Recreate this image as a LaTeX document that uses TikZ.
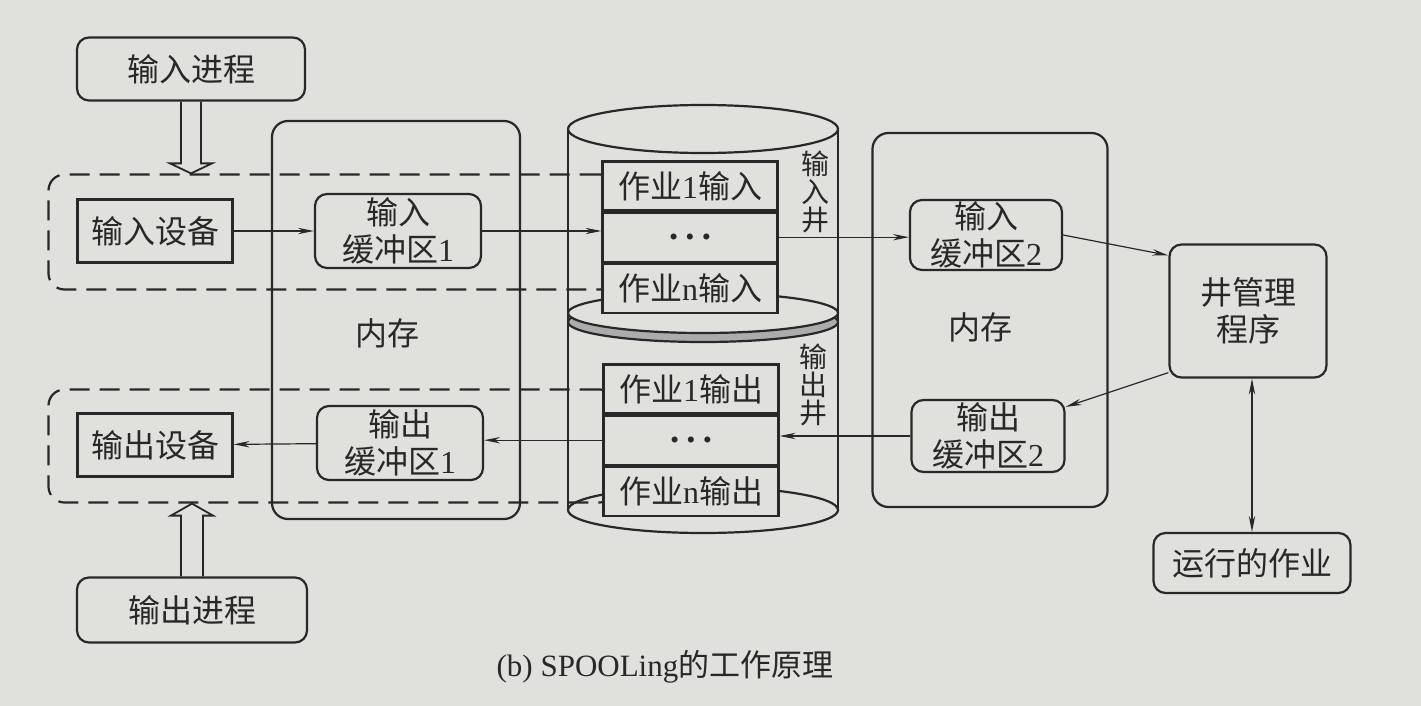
\documentclass[tikz,border=0pt]{standalone}
\usepackage{fontspec}
\setmainfont{Liberation Serif}
\newfontfamily\cjk{Noto Sans CJK SC}
\usetikzlibrary{arrows.meta,positioning,calc}
\newcommand\lat[1]{{\rmfamily #1}}
\newcommand\jobdots{{\fontsize{7}{7}\selectfont$\bullet\;\bullet\;\bullet$}}
\definecolor{paper}{RGB}{224,224,221}
\definecolor{ink}{RGB}{40,40,40}

\begin{document}
\begin{tikzpicture}[
  x=0.5pt, y=-0.5pt, >={Stealth[length=8pt,width=3.2pt]},
  font=\cjk\fontsize{16}{18.5}\selectfont, color=ink,
  box/.style={draw, line width=1.1pt, align=center, inner sep=0pt},
  dev/.style={box, minimum width=77.5pt, minimum height=31.5pt},
  proc/.style={box, rounded corners=6pt, minimum width=114pt, minimum height=31.5pt},
  buf/.style={box, rounded corners=6pt, minimum width=83pt, minimum height=37pt},
  mem/.style={draw, line width=1.1pt, rounded corners=8pt, inner sep=0pt},
  job/.style={box, fill=paper, minimum width=87.5pt, minimum height=24.5pt},
  dashbox/.style={draw, line width=1.1pt, dash pattern=on 10pt off 5pt, rounded corners=8pt,
    minimum width=283.5pt, minimum height=57.5pt, inner sep=0pt},
  well/.style={align=center, inner sep=0pt, font=\cjk\fontsize{14}{14}\selectfont},
  conn/.style={->, line width=0.6pt},
  hollow/.style={line width=0.9pt}]
\fill[paper] (0,0) rectangle (1421,706);
\useasboundingbox (0,0) rectangle (1421,706);
% dashed device groups
\node[dashbox] (indash) at (332,232) {};
\node[dashbox, minimum height=56.5pt] (outdash) at (332,446) {};
% memory
\node[mem, minimum width=124pt, minimum height=199pt] (mem1) at (396,320) {};
\node (mem1lab) at (387,333) {内存};
\node[mem, minimum width=117.5pt, minimum height=187pt] (mem2) at (990,320) {};
\node (mem2lab) at (980,327) {内存};
% disk
\draw[line width=1.1pt] (703,129) ellipse [x radius=67.5pt, y radius=12pt];
\draw[line width=1.1pt] (568,129) -- (568,510) (838,129) -- (838,510);
\draw[line width=1.1pt] (703,510) ellipse [x radius=67.5pt, y radius=11.5pt];
\draw[line width=1.1pt, fill=gray!65] (703,322) ellipse [x radius=67.5pt, y radius=10pt];
\draw[line width=1.1pt, fill=paper] (703,313) ellipse [x radius=67.5pt, y radius=10pt];
\node[job] (jin1) at (690,186) {作业\lat{1}输入};
\node[job, below=0pt of jin1] (jin2) {\jobdots};
\node[job, below=0pt of jin2] (jin3) {作业\lat{n}输入};
\node[job] (jout1) at (691,389) {作业\lat{1}输出};
\node[job, below=0pt of jout1] (jout2) {\jobdots};
\node[job, below=0pt of jout2] (jout3) {作业\lat{n}输出};
\node[well] (inwell) at (815,192) {输\\入\\井};
\node[well] (outwell) at (813,385) {输\\出\\井};
% devices, processes, buffers
\node[proc] (inproc) at (191,69) {输入进程};
\node[proc, minimum width=115pt, minimum height=32.5pt] (outproc) at (192,610) {输出进程};
\node[dev] (indev) at (155,231) {输入设备};
\node[dev] (outdev) at (155,445) {输出设备};
\node[buf] (inbuf1) at (398,231) {输入\\缓冲区\lat{1}};
\node[buf] (outbuf1) at (400,443) {输出\\缓冲区\lat{1}};
\node[buf, minimum width=76pt, minimum height=35pt] (inbuf2) at (986,235) {输入\\缓冲区\lat{2}};
\node[buf, minimum width=76.5pt, minimum height=36pt] (outbuf2) at (988,436) {输出\\缓冲区\lat{2}};
\node[box, rounded corners=6pt, minimum width=78.5pt, minimum height=66.5pt] (mgr) at (1248,311) {井管理\\程序};
\node[proc, minimum width=98.5pt, minimum height=30pt] (run) at (1252,563) {运行的作业};
\node[font=\cjk\fontsize{15.5}{18}\selectfont] (cap) at (665,667) {\lat{(b) SPOOLing}的工作原理};
% data flow
\draw[conn] (indev) -- (inbuf1);
\draw[conn] (inbuf1.east) -- (inbuf1.east -| jin2.west);
\draw[conn] (jin2.east) -- (jin2.east -| inbuf2.west);
\draw[conn] (inbuf2.east) -- ([yshift=-6pt]mgr.north west);
\draw[conn] ([yshift=3pt]mgr.south west) -- ([yshift=-4pt]outbuf2.north east);
\draw[conn] (outbuf2.west) -- (outbuf2.west -| jout2.east);
\draw[conn] (jout2.west) -- (jout2.west -| outbuf1.east);
\draw[conn] (outbuf1) -- (outdev);
\draw[conn, <->] (run.north |- mgr.south) -- (run.north);
% hollow arrows
\coordinate (intip) at (inproc.south |- indash.north);
\draw[hollow] ([xshift=-5pt]inproc.south) |- ([xshift=-10.5pt,yshift=5pt]intip) -- (intip)
  -- ([xshift=10.5pt,yshift=5pt]intip) -| ([xshift=5pt]inproc.south);
\coordinate (outtip) at (outproc.north |- outdash.south);
\draw[hollow] ([xshift=-5.5pt]outproc.north) |- ([xshift=-10.5pt,yshift=-6pt]outtip) -- (outtip)
  -- ([xshift=10.5pt,yshift=-6pt]outtip) -| ([xshift=5.5pt]outproc.north);
\end{tikzpicture}
\end{document}
